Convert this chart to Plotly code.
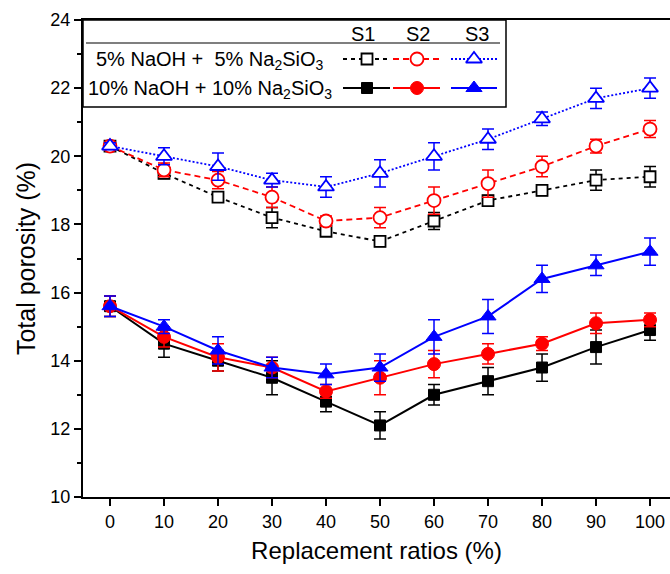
import plotly.graph_objects as go

ratios = [0, 10, 20, 30, 40, 50, 60, 70, 80, 90, 100]

s1_5 = [20.3, 19.5, 18.8, 18.2, 17.8, 17.5, 18.1, 18.7, 19.0, 19.3, 19.4]
s1_5_err = [0.1, 0.15, 0.15, 0.3, 0.1, 0.15, 0.25, 0.15, 0.15, 0.3, 0.3]
s2_5 = [20.3, 19.6, 19.3, 18.8, 18.1, 18.2, 18.7, 19.2, 19.7, 20.3, 20.8]
s2_5_err = [0.1, 0.2, 0.25, 0.3, 0.15, 0.3, 0.4, 0.4, 0.3, 0.2, 0.25]
s3_5 = [20.3, 20.0, 19.7, 19.3, 19.1, 19.5, 20.0, 20.5, 21.1, 21.7, 22.0]
s3_5_err = [0.1, 0.25, 0.4, 0.2, 0.3, 0.4, 0.4, 0.3, 0.2, 0.3, 0.3]

s1_10 = [15.6, 14.5, 14.0, 13.5, 12.8, 12.1, 13.0, 13.4, 13.8, 14.4, 14.9]
s1_10_err = [0.3, 0.4, 0.3, 0.5, 0.3, 0.4, 0.3, 0.4, 0.4, 0.5, 0.3]
s2_10 = [15.6, 14.7, 14.1, 13.8, 13.1, 13.5, 13.9, 14.2, 14.5, 15.1, 15.2]
s2_10_err = [0.3, 0.3, 0.4, 0.3, 0.2, 0.5, 0.4, 0.3, 0.2, 0.3, 0.2]
s3_10 = [15.6, 15.0, 14.3, 13.8, 13.6, 13.8, 14.7, 15.3, 16.4, 16.8, 17.2]
s3_10_err = [0.3, 0.2, 0.4, 0.3, 0.3, 0.4, 0.5, 0.5, 0.4, 0.3, 0.4]

series_labels = ["S1", "S2", "S3"]
row_labels = ["5% NaOH +  5% Na<sub>2</sub>SiO<sub>3</sub>",
              "10% NaOH + 10% Na<sub>2</sub>SiO<sub>3</sub>"]

colors = ["#000000", "#ff0000", "#0000ff"]
dashes_5 = ["4px,4px", "6px,4px", "2px,2px"]
symbols_open = ["square", "circle", "triangle-up"]
sizes = [11, 13, 14]

FONT = "Liberation Sans, Arial, sans-serif"

fig = go.Figure()

data_5 = [(s1_5, s1_5_err), (s2_5, s2_5_err), (s3_5, s3_5_err)]
data_10 = [(s1_10, s1_10_err), (s2_10, s2_10_err), (s3_10, s3_10_err)]

for i, (vals, err) in enumerate(data_5):
    fig.add_trace(go.Scatter(
        x=ratios, y=vals, mode="lines+markers",
        line=dict(color=colors[i], width=1.8, dash=dashes_5[i]),
        marker=dict(symbol=symbols_open[i], size=sizes[i], color="white",
                    line=dict(color=colors[i], width=1.8)),
        error_y=dict(type="data", array=err, visible=True, color=colors[i],
                     thickness=1.5, width=6),
        showlegend=False))

for i, (vals, err) in enumerate(data_10):
    fig.add_trace(go.Scatter(
        x=ratios, y=vals, mode="lines+markers",
        line=dict(color=colors[i], width=2),
        marker=dict(symbol=symbols_open[i], size=sizes[i], color=colors[i],
                    line=dict(color=colors[i], width=1)),
        error_y=dict(type="data", array=err, visible=True, color=colors[i],
                     thickness=1.5, width=6),
        showlegend=False))

# --- custom legend in pixel-like overlay coordinates ---
PX_L, PX_R, PX_T, PX_B = 83, 670, 20, 497
sample_x = [(343, 390, 367), (393, 440, 417), (451, 497, 474)]
row_y = [59, 88]
for i in range(3):
    x0, x1, xm = sample_x[i]
    # dashed row
    fig.add_trace(go.Scatter(
        x=[x0, x1], y=[row_y[0], row_y[0]], xaxis="x2", yaxis="y2",
        mode="lines", line=dict(color=colors[i], width=1.8, dash=dashes_5[i]),
        showlegend=False, hoverinfo="skip"))
    fig.add_trace(go.Scatter(
        x=[xm], y=[row_y[0]], xaxis="x2", yaxis="y2", mode="markers",
        marker=dict(symbol=symbols_open[i], size=sizes[i], color="white",
                    line=dict(color=colors[i], width=1.8)),
        showlegend=False, hoverinfo="skip"))
    fig.add_trace(go.Scatter(
        x=[x0, x1], y=[row_y[1], row_y[1]], xaxis="x2", yaxis="y2",
        mode="lines", line=dict(color=colors[i], width=2),
        showlegend=False, hoverinfo="skip"))
    fig.add_trace(go.Scatter(
        x=[xm], y=[row_y[1]], xaxis="x2", yaxis="y2", mode="markers",
        marker=dict(symbol=symbols_open[i], size=sizes[i], color=colors[i],
                    line=dict(color=colors[i], width=1)),
        showlegend=False, hoverinfo="skip"))

annotations = []
for i, lab in enumerate(series_labels):
    annotations.append(dict(x=[363, 418, 477][i], y=34, xref="x2", yref="y2",
                            text=lab, showarrow=False,
                            font=dict(family=FONT, size=20, color="black")))
for j, lab in enumerate(row_labels):
    annotations.append(dict(x=210, y=row_y[j] + 1, xref="x2", yref="y2",
                            text=lab, showarrow=False,
                            font=dict(family=FONT, size=20, color="black")))

shapes = [
    dict(type="rect", xref="x2", yref="y2", x0=83, x1=506, y0=20, y1=107,
         line=dict(color="black", width=1.5), fillcolor="rgba(0,0,0,0)",
         layer="below"),
    dict(type="line", xref="x2", yref="y2", x0=86, x1=500, y0=43, y1=43,
         line=dict(color="black", width=1.2)),
]

fig.update_layout(
    width=670, height=574,
    margin=dict(l=PX_L, r=670 - PX_R, t=PX_T, b=574 - PX_B, pad=0),
    paper_bgcolor="white", plot_bgcolor="white",
    font=dict(family=FONT, size=18, color="black"),
    xaxis=dict(range=[-5, 103.7], tickvals=ratios, ticks="outside", ticklen=7,
               tickwidth=1.5, tickcolor="black", showline=True, linecolor="black",
               linewidth=2, mirror=True, showgrid=False, zeroline=False,
               tickfont=dict(family=FONT, size=18),
               title=dict(text="Replacement ratios (%)",
                          font=dict(family=FONT, size=24), standoff=12)),
    yaxis=dict(range=[10, 24], dtick=2, ticks="outside", ticklen=7,
               tickwidth=1.5, tickcolor="black", showline=True, linecolor="black",
               linewidth=2, showgrid=False, zeroline=False,
               minor=dict(ticks="outside", ticklen=4, dtick=1, tickwidth=1.5,
                          tickcolor="black"),
               tickfont=dict(family=FONT, size=18),
               title=dict(text="Total porosity (%)",
                          font=dict(family=FONT, size=25), standoff=8)),
    xaxis2=dict(range=[PX_L, PX_R], overlaying="x", visible=False,
                fixedrange=True),
    yaxis2=dict(range=[PX_B, PX_T], overlaying="y", visible=False,
                fixedrange=True),
    annotations=annotations,
    shapes=shapes,
)

fig.write_html("out.html")
